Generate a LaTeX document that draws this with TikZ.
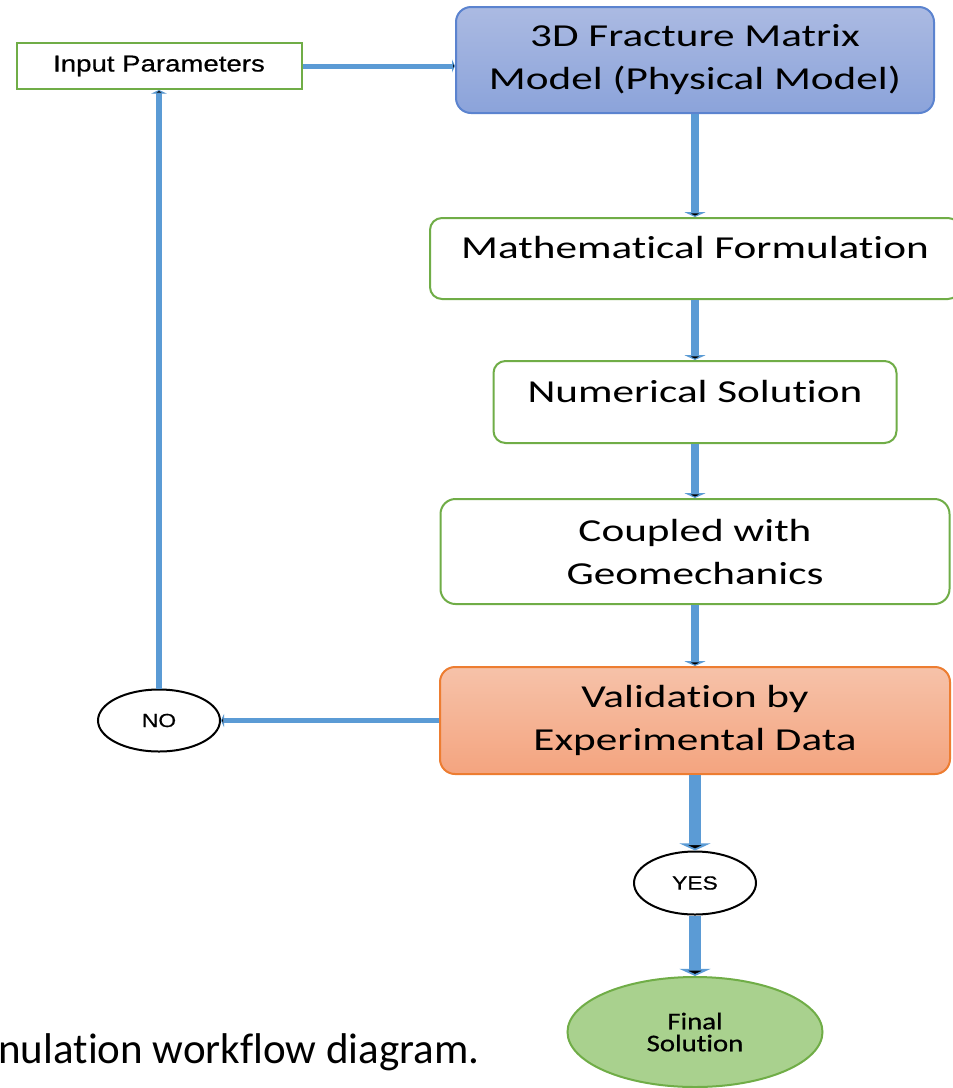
\documentclass[tikz,border=0pt]{standalone}
\usepackage{fontspec}
\setmainfont[Ligatures={NoCommon,NoContextual}]{Carlito}
\newfontfamily\boxfont[FakeStretch=1.35, Ligatures={NoCommon,NoContextual}]{Carlito}
\newfontfamily\endfont[FakeStretch=1.2, FakeBold=0.6, Ligatures={NoCommon,NoContextual}]{Carlito}
\newfontfamily\labfont[FakeStretch=1.2, FakeBold=0.5]{Liberation Sans}
\usetikzlibrary{positioning, arrows.meta, shapes.geometric}
\definecolor{flowblue}{HTML}{5B9BD5}
\definecolor{boxgreen}{HTML}{70AD47}
\definecolor{physline}{HTML}{5B83CF}
\definecolor{phystop}{HTML}{ABBAE2}
\definecolor{physbot}{HTML}{8BA3DA}
\definecolor{valline}{HTML}{ED7D31}
\definecolor{valtop}{HTML}{F6C2A9}
\definecolor{valbot}{HTML}{F4A47F}
\definecolor{endfill}{HTML}{A9D18E}

\begin{document}
\begin{tikzpicture}[x=0.5pt, y=-0.5pt, on grid,
    stage/.style={draw=boxgreen, line width=1pt, rounded corners=6pt, align=center,
      inner sep=0pt, font=\boxfont\fontsize{16}{21.5}\selectfont},
    oneline/.style={text height=11pt, text depth=11pt},
    decision/.style={ellipse, draw=black, line width=1pt, inner sep=0pt,
      minimum width=61pt, minimum height=31pt, font=\labfont\fontsize{9.5}{11}\selectfont},
    flow/.style={draw=flowblue, line width=4pt, -{Triangle[length=0pt 0.6, width=0pt 2.6]}},
    thickflow/.style={line width=6pt},
    thinflow/.style={line width=2.5pt}]
  \useasboundingbox (0,0) rectangle (953,1088);
  \fill[white] (0,0) rectangle (953,1088);
  \clip (0,0) rectangle (953,1088);

  \node[stage, draw=physline, rounded corners=7.5pt, top color=phystop, bottom color=physbot,
    minimum width=239pt, minimum height=53pt] (phys) at (695,60)
    {3D Fracture Matrix\\Model (Physical Model)};
  \node[stage, oneline, minimum width=265pt, minimum height=40.5pt] (math) [below=99.25pt of phys]
    {Mathematical Formulation};
  \node[stage, oneline, minimum width=201.5pt, minimum height=41pt] (num) [below=71.75pt of math]
    {Numerical Solution};
  \node[stage, rounded corners=7.5pt, minimum width=254.5pt, minimum height=52.5pt] (coup) [below=74.75pt of num]
    {Coupled with\\Geomechanics};
  \node[stage, draw=valline, rounded corners=7.5pt, top color=valtop, bottom color=valbot,
    minimum width=255pt, minimum height=53.5pt] (valid) [below=84.5pt of coup]
    {Validation by\\Experimental Data};
  \node[decision, minimum height=31.5pt] (yes) [below=81.25pt of valid] {YES};
  \node[ellipse, draw=boxgreen, line width=1pt, fill=endfill, inner sep=0pt, align=center,
    minimum width=127.5pt, minimum height=55pt, font=\endfont\fontsize{12}{11}\selectfont]
    (final) [below=74.5pt of yes] {Final\\Solution};

  \node[decision] (no) [left=268pt of valid] {NO};
  \node[draw=boxgreen, line width=1pt, fill=white, minimum width=142.5pt, minimum height=23pt,
    inner sep=0pt, font=\labfont\fontsize{11.5}{13}\selectfont] (inp) [above=327.25pt of no]
    {Input Parameters};

  \node[anchor=base west, inner sep=0pt, font=\fontsize{21.5}{26}\selectfont] (caption) at (-2,1063)
    {nulation workflow diagram.};

  \path[flow]
  (phys) edge (math)
  (math) edge (num)
  (num) edge (coup)
  (coup) edge (valid)
  (valid) edge[thickflow] (yes)
  (yes) edge[thickflow] (final)
  ;
  \path[flow, thinflow]
  (inp) edge (inp -| phys.west)
  (valid) edge (no)
  (no) edge[line width=3pt] (inp)
  ;
\end{tikzpicture}
\end{document}
